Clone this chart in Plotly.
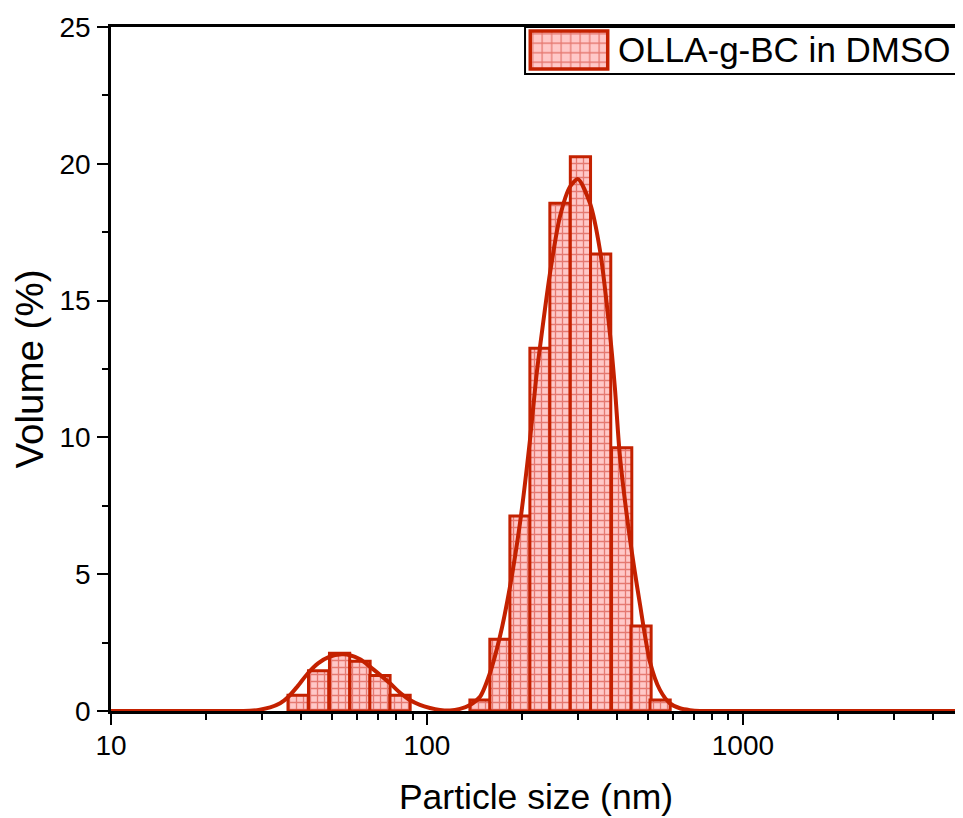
import numpy as np
import plotly.graph_objects as go

# ---- data ----
small_size_nm = [39.1, 45.4, 52.9, 61.4, 71.0, 82.2]
small_volume = [0.58, 1.47, 2.11, 1.82, 1.30, 0.58]

main_size_nm = [147.2, 170.2, 197.0, 227.9, 263.6, 306.0, 354.6, 413.3, 475.9, 546.9]
main_volume = [0.40, 2.62, 7.13, 13.26, 18.56, 20.26, 16.70, 9.62, 3.11, 0.40]

fit_size_nm = [10, 20, 27.5, 29.6, 31.9, 34.3, 36.3, 38.8, 42.0, 45.2, 49.0, 53.8,
               57.1, 61.4, 66.0, 71.0, 76.4, 82.2, 88.3, 95.0, 102.2, 109.9, 118.3,
               127.2, 136.8, 147.2, 158.2, 170.2, 183.1, 197.0, 211.8, 221.3, 227.9,
               245.1, 263.6, 283.5, 300.5, 328.0, 352.7, 379.4, 393.4, 408.1, 438.9,
               472.2, 507.7, 546.1, 587.5, 631.8, 679.7, 731.0, 1000, 4900]
fit_volume = [0, 0, 0.01, 0.05, 0.13, 0.28, 0.50, 0.88, 1.38, 1.74, 1.98, 2.07,
              2.04, 1.89, 1.62, 1.32, 1.01, 0.67, 0.40, 0.22, 0.11, 0.04, 0.02,
              0.08, 0.22, 0.52, 1.38, 2.72, 4.54, 6.87, 9.90, 12.10, 13.30,
              16.00, 18.07, 19.16, 19.44, 18.56, 16.85, 13.80, 11.80, 9.30, 6.30,
              3.90, 1.80, 0.77, 0.28, 0.10, 0.03, 0, 0, 0]

x_tick_values = [10, 100, 1000]
x_tick_labels = ["10", "100", "1000"]
x_minor_values = [20, 30, 40, 50, 60, 70, 80, 90, 200, 300, 400, 500, 600, 700,
                  800, 900, 2000, 3000, 4000]
x_limits = [10, 4900]
series_name = "OLLA-g-BC in DMSO"

# ---- styling ----
RED = "#C42100"
PINK = "#FFC8C8"
GRID = "#CC2A1A"
FONT = "Arial, Liberation Sans, sans-serif"
BIN_W = 0.0640  # bar width in decades

sizes = small_size_nm + main_size_nm
vols = small_volume + main_volume

fig = go.Figure()

fig.add_trace(go.Bar(
    x=np.log10(sizes), y=vols, width=BIN_W, name=series_name,
    marker=dict(color=PINK,
                line=dict(color=RED, width=3),
                pattern=dict(shape="+", bgcolor=PINK, fgcolor=GRID,
                             size=7, solidity=0.34, fillmode="overlay")),
    showlegend=False,
))

fig.add_trace(go.Scatter(
    x=np.log10(fit_size_nm), y=fit_volume, mode="lines",
    line=dict(color=RED, width=4, shape="spline", smoothing=0.7),
    showlegend=False, name="fit",
))

# legend swatch (bar on a small auxiliary axis)
fig.add_trace(go.Bar(
    x=[0.5], y=[1], base=0, width=1, xaxis="x2", yaxis="y2",
    marker=dict(color=PINK,
                line=dict(color=RED, width=3.5),
                pattern=dict(shape="+", bgcolor=PINK, fgcolor=GRID,
                             size=9.5, solidity=0.25, fillmode="overlay")),
    showlegend=False, hoverinfo="skip",
))

axis_common = dict(
    showline=True, linecolor="black", linewidth=2.5, mirror=True,
    ticks="outside", ticklen=11, tickwidth=2, tickcolor="black",
    showgrid=False, zeroline=False, automargin=False,
    tickfont=dict(family=FONT, size=28, color="black"),
)

# the page body adds an 8 px offset, so the figure is 8 px smaller on each side
fig.update_layout(
    width=955, height=810,
    margin=dict(l=103, r=2, t=19, b=107),
    paper_bgcolor="white", plot_bgcolor="white",
    font=dict(family=FONT, color="black"),
    barmode="overlay",
    xaxis=dict(
        **axis_common,
        range=list(np.log10(x_limits)),
        tickmode="array", tickvals=list(np.log10(x_tick_values)), ticktext=x_tick_labels,
        minor=dict(tickmode="array", tickvals=list(np.log10(x_minor_values)),
                   ticks="outside", ticklen=6, tickwidth=2, tickcolor="black"),
        ticklabelstandoff=-3,
        title=dict(text="Particle size (nm)", font=dict(family=FONT, size=35.5),
                   standoff=24),
    ),
    yaxis=dict(
        **axis_common,
        range=[0, 25], tickmode="linear", tick0=0, dtick=5,
        minor=dict(dtick=2.5, ticks="outside", ticklen=6, tickwidth=2,
                   tickcolor="black"),
        ticklabelstandoff=1,
        title=dict(text="Volume (%)", font=dict(family=FONT, size=38.5), standoff=10),
    ),
    xaxis2=dict(domain=[0.4905, 0.5871], range=[-0.03, 1.03], visible=False,
                fixedrange=True, anchor="y2"),
    yaxis2=dict(domain=[0.9357, 0.9971], range=[-0.05, 1.05], visible=False,
                fixedrange=True, anchor="x2"),
)

# legend frame and label
fig.add_shape(type="rect", xref="paper", yref="paper",
              x0=0.4871, x1=0.9953, y0=0.9313, y1=1.0,
              line=dict(color="black", width=2), fillcolor="rgba(0,0,0,0)",
              layer="below")
fig.add_annotation(xref="paper", yref="paper", x=0.5945, y=0.9664,
                   xanchor="left", yanchor="middle", showarrow=False,
                   text=series_name, font=dict(family=FONT, size=35, color="black"))

fig.write_html("out.html")
